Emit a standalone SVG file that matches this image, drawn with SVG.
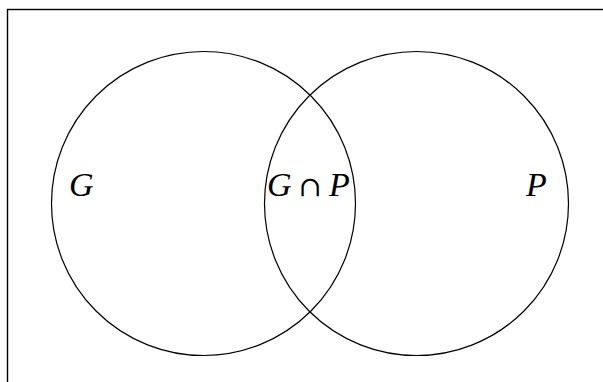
<svg xmlns="http://www.w3.org/2000/svg" width="603" height="382" viewBox="0 0 603 382">
<style>
.c{fill:none;stroke:#000;stroke-width:1.2}
.t{font-family:"Liberation Serif","DejaVu Serif",serif;font-style:italic;font-size:34px;fill:#000}
.u{font-family:"DejaVu Serif","Liberation Serif",serif;font-style:normal;font-size:28px}
</style>
<rect x="7.5" y="9.5" width="620" height="400" fill="none" stroke="#000" stroke-width="1.4"/>
<g id="G"><circle class="c" cx="203.5" cy="203.5" r="152"/><text class="t" x="69" y="196">G</text></g>
<g id="P"><circle class="c" cx="416.5" cy="203.5" r="152"/><text class="t" x="526" y="196">P</text></g>
<g id="GP"><text class="t" x="267" y="196">G<tspan class="u" dx="7">∩</tspan><tspan dx="7">P</tspan></text></g>
<g id="connectors"/>
</svg>
